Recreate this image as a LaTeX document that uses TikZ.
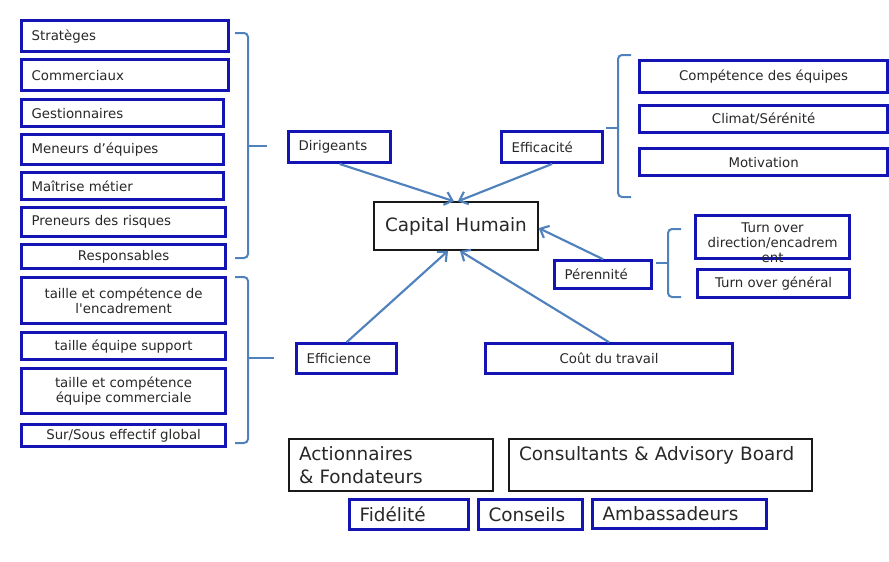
\documentclass[tikz,border=0pt]{standalone}
\usepackage{fontspec}
\setmainfont{DejaVu Sans}
\usetikzlibrary{arrows.meta,calc}
\definecolor{boxblue}{RGB}{20,20,180}
\definecolor{arrblue}{RGB}{79,129,189}
\definecolor{txt}{RGB}{40,40,40}
\newcommand\smallf{\fontsize{10}{11.25}\selectfont}
\newcommand\bigf{\fontsize{13.8}{17.25}\selectfont}
% left-aligned box: name, x1, y1, x2, y2, style, text
\newcommand\bxl[7]{%
  \pgfmathsetmacro\bxw{(#4-#2-22)*0.75}%
  \pgfmathsetmacro\bxh{(#5-#3-2.5)*0.75}%
  \node[#6, align=left, anchor=north west, inner xsep=7.31pt, text width=\bxw pt, minimum height=\bxh pt] (#1) at (#2+1.25,#3+1.25) {#7};}
% centered box
\newcommand\bxc[7]{%
  \pgfmathsetmacro\bxw{(#4-#2-2.5)*0.75}%
  \pgfmathsetmacro\bxh{(#5-#3-2.5)*0.75}%
  \node[#6, align=center, anchor=north west, minimum width=\bxw pt, minimum height=\bxh pt] (#1) at (#2+1.25,#3+1.25) {#7};}
\tikzset{
  bluebox/.style={draw=boxblue, line width=2.4pt},
  blkbox/.style={draw=black!90, line width=1.6pt},
  arr/.style={draw=arrblue, line width=1.6pt, -{Straight Barb[length=5.5pt,width=10pt]}},
  brk/.style={draw=arrblue, line width=1.5pt, rounded corners=3pt},
}
\begin{document}
\begin{tikzpicture}[x=0.75pt,y=-0.75pt, font=\smallf, text=txt,
  every node/.style={inner xsep=8.06pt, inner ysep=0pt}]
\useasboundingbox[fill=white] (0,0) rectangle (889,561);

% left column, group 1
\bxl{s1}{19}{18}{228}{51}{bluebox}{Stratèges}
\bxl{s2}{19}{57}{228}{90}{bluebox}{Commerciaux}
\bxl{s3}{19}{97}{223}{126}{bluebox}{Gestionnaires}
\bxl{s4}{19}{132}{223}{164}{bluebox}{Meneurs d’équipes}
\bxl{s5}{19}{170}{223}{199}{bluebox}{Maîtrise métier}
\bxl{s6}{19}{205}{225}{236}{bluebox}{Preneurs des risques}
\bxc{s7}{19}{242}{225}{268}{bluebox}{Responsables}

% left column, group 2
\bxc{t1}{19}{275}{225}{323}{bluebox}{taille et compétence de\\l\textquotesingle encadrement}
\bxc{t2}{19}{330}{225}{359}{bluebox}{taille équipe support}
\bxc{t3}{19}{366}{225}{413}{bluebox}{taille et compétence\\équipe commerciale}
\bxc{t4}{19}{422}{225}{446}{bluebox}{Sur/Sous effectif global}

% brackets left
\draw[brk] (235,33) -- (248,33) -- (248,258) -- (235,258);
\draw[brk] (248,146) -- (267,146);
\draw[brk] (235,277) -- (248,277) -- (248,443) -- (235,443);
\draw[brk] (248,358) -- (274,358);

% center
\bxl{dir}{286}{129}{390}{162}{bluebox}{Dirigeants}
\bxl{effa}{499}{129}{602}{162}{bluebox}{Efficacité}
\bxc{cap}{372}{200}{537}{250}{blkbox,font=\bigf}{Capital Humain}
\bxl{per}{552}{258}{651}{288}{bluebox}{Pérennité}
\bxl{effi}{294}{341}{396}{373}{bluebox}{Efficience}
\bxc{cout}{483}{341}{732}{373}{bluebox}{Coût du travail}

% right top
\bxc{r1}{637}{58}{887}{92}{bluebox}{Compétence des équipes}
\bxc{r2}{637}{103}{887}{132}{bluebox}{Climat/Sérénité}
\bxc{r3}{637}{146}{887}{175}{bluebox}{Motivation}
\draw[brk] (631,55) -- (618,55) -- (618,197) -- (631,197);
\draw[brk] (618,128) -- (606,128);

% right middle
\node[bluebox, anchor=north west, minimum width=115.1pt, minimum height=31.9pt] (to1) at (694.25,214.25)
  {\smash{\raisebox{-8pt}{\begin{tabular}{@{}c@{}}Turn over\\direction/encadrem\\ent\end{tabular}}}};
\bxc{to2}{695}{267}{849}{297}{bluebox}{Turn over général}
\draw[brk] (681,229) -- (668,229) -- (668,297) -- (681,297);
\draw[brk] (668,263) -- (656,263);

% bottom
\bxl{act}{287}{437}{493}{491}{blkbox,font=\bigf}{Actionnaires\\\& Fondateurs}
\bxl{cons}{507}{437}{812}{491}{blkbox,font=\bigf}{Consultants \& Advisory Board\\\mbox{}}
\bxl{fid}{347}{497}{468}{529}{bluebox,font=\bigf}{Fidélité}
\bxl{conse}{476}{497}{582}{529}{bluebox,font=\bigf}{Conseils}
\bxl{amb}{590}{497}{766}{528}{bluebox,font=\bigf}{Ambassadeurs}

% arrows
\draw[arr] (dir.south) -- ($(cap.north)+(-2,0)$);
\draw[arr] (effa.south) -- ($(cap.north)+(2,0)$);
\draw[arr] (per.north) -- ($(cap.east)+(0,2)$);
\draw[arr] (effi.north) -- ($(cap.south)+(-8,0)$);
\draw[arr] (cout.north) -- ($(cap.south)+(4,0)$);
\end{tikzpicture}
\end{document}
